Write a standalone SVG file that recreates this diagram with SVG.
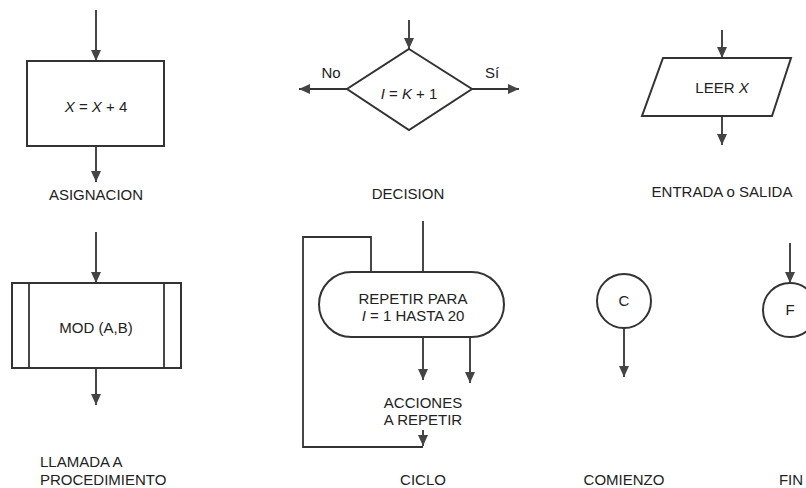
<svg xmlns="http://www.w3.org/2000/svg" width="806" height="488" viewBox="0 0 806 488">
<style>
.sh{fill:#fff;stroke:#333;stroke-width:2}
.ln{fill:none;stroke:#333;stroke-width:1.8}
.ar{marker-end:url(#ah)}
text{font-family:"Liberation Sans",Arial,sans-serif;font-size:15px;fill:#222;text-anchor:middle}
.it{font-style:italic}
.lf{text-anchor:start}
</style>
<defs>
<marker id="ah" markerUnits="userSpaceOnUse" markerWidth="12" markerHeight="12" viewBox="0 0 12 12" refX="11" refY="6" orient="auto">
<path d="M0,1 L11,6 L0,11 Z" fill="#444"/>
</marker>
</defs>
<g id="connectors">
<line class="ln ar" x1="96" y1="10" x2="96" y2="61"/>
<line class="ln ar" x1="96" y1="146" x2="96" y2="182"/>
<line class="ln ar" x1="409" y1="20" x2="409" y2="49"/>
<line class="ln ar" x1="347" y1="89" x2="299" y2="89"/>
<line class="ln ar" x1="472" y1="89" x2="519" y2="89"/>
<line class="ln ar" x1="722" y1="30" x2="722" y2="58"/>
<line class="ln ar" x1="722" y1="116" x2="722" y2="145"/>
<line class="ln ar" x1="96" y1="232" x2="96" y2="283"/>
<line class="ln ar" x1="96" y1="368" x2="96" y2="405"/>
<line class="ln" x1="423" y1="221" x2="423" y2="272"/>
<path class="ln" d="M371,272 V237 H303 V447 H423"/>
<line class="ln ar" x1="423" y1="430" x2="423" y2="446"/>
<line class="ln ar" x1="423" y1="337" x2="423" y2="380"/>
<line class="ln ar" x1="470" y1="337" x2="470" y2="383"/>
<line class="ln ar" x1="624" y1="328" x2="624" y2="377"/>
<line class="ln ar" x1="790" y1="243" x2="790" y2="283"/>
</g>
<g id="asignacion">
<rect class="sh" x="27" y="61" width="137" height="85"/>
<text x="96" y="112"><tspan class="it">X</tspan> = <tspan class="it">X</tspan> + 4</text>
<text x="96" y="200">ASIGNACION</text>
</g>
<g id="decision">
<polygon class="sh" points="409,49 472,89 409,130 347,89"/>
<text x="409" y="99"><tspan class="it">I</tspan> = <tspan class="it">K</tspan> + 1</text>
<text x="331" y="78">No</text>
<text x="492" y="78">Sí</text>
<text x="408" y="199">DECISION</text>
</g>
<g id="entrada-salida">
<polygon class="sh" points="663,58 791,58 772,116 642,116"/>
<text x="722" y="93">LEER <tspan class="it">X</tspan></text>
<text x="722" y="197">ENTRADA o SALIDA</text>
</g>
<g id="llamada">
<rect class="sh" x="12" y="283" width="169" height="85"/>
<line class="ln" x1="29" y1="283" x2="29" y2="368"/>
<line class="ln" x1="164" y1="283" x2="164" y2="368"/>
<text x="96" y="333">MOD (A,B)</text>
<text class="lf" x="40" y="467">LLAMADA A</text>
<text class="lf" x="40" y="485">PROCEDIMIENTO</text>
</g>
<g id="ciclo">
<rect class="sh" x="319" y="272" width="185" height="65" rx="32.5"/>
<text x="413" y="304">REPETIR PARA</text>
<text x="413" y="321"><tspan class="it">I</tspan> = 1 HASTA 20</text>
<text x="423" y="408">ACCIONES</text>
<text x="423" y="425">A REPETIR</text>
<text x="423" y="485">CICLO</text>
</g>
<g id="comienzo">
<circle class="sh" cx="624" cy="301" r="27"/>
<text x="624" y="306">C</text>
<text x="624" y="485">COMIENZO</text>
</g>
<g id="fin">
<circle class="sh" cx="790" cy="310" r="27"/>
<text x="790" y="315">F</text>
<text x="791" y="485">FIN</text>
</g>
</svg>
